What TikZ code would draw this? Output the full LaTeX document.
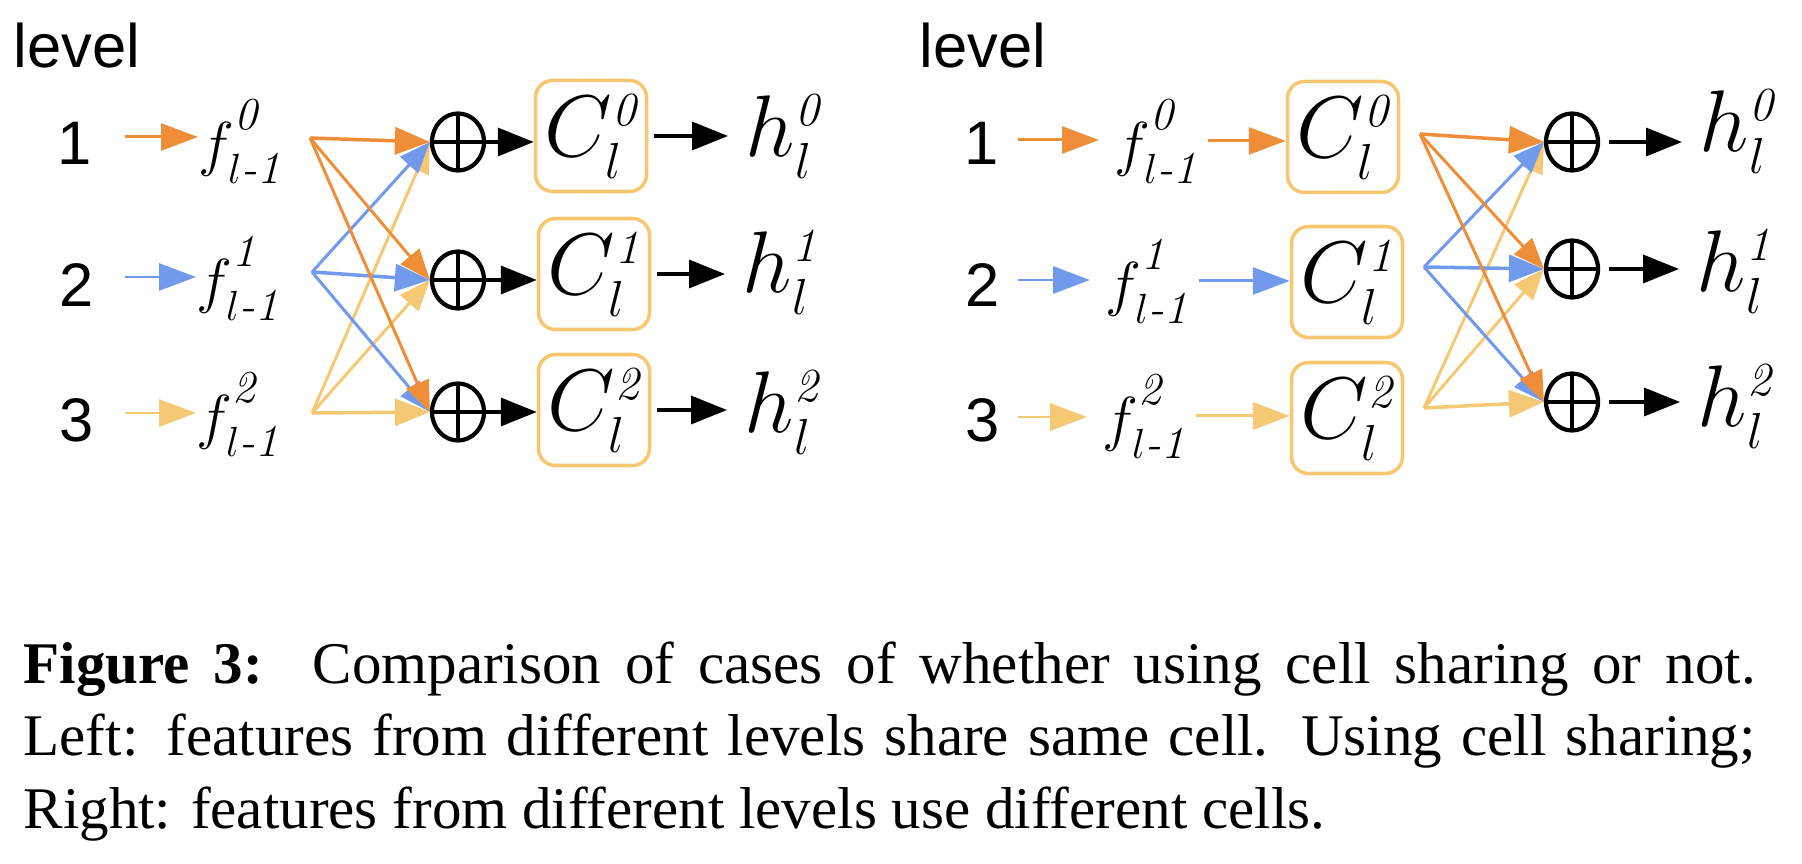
\documentclass[tikz,border=0pt]{standalone}
\usepackage{amsmath}
\usepackage{fontspec}
\newfontfamily\capfont{Liberation Serif}
\newfontfamily\labfont{Liberation Sans}
\usetikzlibrary{arrows.meta,shapes.geometric}

\definecolor{orangec}{RGB}{239,142,57}
\definecolor{bluec}{RGB}{114,154,236}
\definecolor{yellowc}{RGB}{245,200,115}
\definecolor{cellc}{RGB}{247,198,112}

\DeclareMathSizes{16.5}{16.5}{13}{9}
\DeclareMathSizes{23}{23}{13.5}{9}

\newcommand{\fin}[1]{$f^{\text{\raisebox{0.3em}{\itshape #1}}}_{l\textit{-1}}$}
\newcommand{\cel}[1]{$C^{\textit{#1}}_{l}$}
\newcommand{\hid}[1]{$h^{\textit{#1}}_{l}$}

\tikzset{
  lvl/.style={font=\labfont\fontsize{17.5}{21}\selectfont, inner sep=0pt},
  feat/.style={font=\fontsize{16.5}{20}\selectfont, inner sep=0pt, anchor=base west},
  outh/.style={font=\fontsize{23}{28}\selectfont, inner sep=0pt, anchor=base west},
  cellbox/.style={draw=cellc, line width=1pt, rounded corners=0.17cm, minimum size=1.11cm,
    inner sep=0pt, font=\fontsize{23}{28}\selectfont},
  plusnode/.style={ellipse, draw, line width=1.2pt, minimum width=0.52cm, minimum height=0.57cm,
    inner sep=0pt, path picture={\draw[line width=1.1pt]
      (path picture bounding box.north) -- (path picture bounding box.south)
      (path picture bounding box.west) -- (path picture bounding box.east);}},
  inarr/.style={line width=0.85pt, -{Triangle[length=3.7mm,width=2.7mm]}},
  fanline/.style={line width=0.85pt},
  fanhead/.style={-{Triangle[length=3.1mm,width=2.4mm]}},
  bighead/.style={line width=1pt, -{Triangle[length=3.5mm,width=2.7mm]}},
  blk/.style={line width=1pt, -{Triangle[length=3.6mm,width=2.8mm]}},
}

\begin{document}
\begin{tikzpicture}
  \useasboundingbox (0,0) rectangle (18.02,-8.64);

  % left: one cell shared by all levels
  \node[lvl,anchor=base west] (lva) at (0.13,-0.68) {level};
  \node[lvl,anchor=base] (la0) at (0.75,-1.65) {1};
  \node[lvl,anchor=base] (la1) at (0.77,-3.07) {2};
  \node[lvl,anchor=base] (la2) at (0.77,-4.42) {3};
  \node[feat] (fa0) at (1.98,-1.65) {\fin{0}};
  \node[feat] (fa1) at (1.96,-3.02) {\fin{1}};
  \node[feat] (fa2) at (1.96,-4.38) {\fin{2}};
  \node[plusnode] (pa0) at (4.58,-1.42) {};
  \node[plusnode] (pa1) at (4.58,-2.80) {};
  \node[plusnode] (pa2) at (4.58,-4.12) {};
  \node[cellbox] (ca0) at (5.91,-1.36) {\cel{0}};
  \node[cellbox] (ca1) at (5.94,-2.74) {\cel{1}};
  \node[cellbox] (ca2) at (5.94,-4.10) {\cel{2}};
  \node[outh] (ha0) at (7.45,-1.57) {\hid{0}};
  \node[outh] (ha1) at (7.42,-2.93) {\hid{1}};
  \node[outh] (ha2) at (7.44,-4.33) {\hid{2}};

  \coordinate (sa0) at (1.25,-1.37);
  \coordinate (sa1) at (1.25,-2.77);
  \coordinate (sa2) at (1.25,-4.13);
  \coordinate (oa0) at (3.10,-1.38);
  \coordinate (oa1) at (3.12,-2.72);
  \coordinate (oa2) at (3.12,-4.13);

  \draw[inarr,orangec] (sa0) -- (sa0 -| fa0.west);
  \draw[inarr,bluec] (sa1) -- (sa1 -| fa1.west);
  \draw[inarr,yellowc] (sa2) -- (sa2 -| fa2.west);

  \draw[fanline,yellowc] (oa2) edge[fanhead] (pa0.west) edge[fanhead] (pa1.west) edge[bighead] (pa2.west);
  \draw[fanline,bluec] (oa1) edge[fanhead] (pa0.west) edge[bighead] (pa1.west) edge[fanhead] (pa2.west);
  \draw[fanline,orangec] (oa0) edge[bighead] (pa0.west) edge[fanhead] (pa1.west) edge[fanhead] (pa2.west);

  \draw[blk] (pa0.east) -- (pa0.east -| ca0.west);
  \draw[blk] (pa1.east) -- (pa1.east -| ca1.west);
  \draw[blk] (pa2.east) -- (pa2.east -| ca2.west);
  \draw[blk,shorten <=0.06cm,shorten >=0.17cm] (ca0.east) -- (ca0.east -| ha0.west);
  \draw[blk,shorten <=0.06cm,shorten >=0.17cm] (ca1.east) -- (ca1.east -| ha1.west);
  \draw[blk,shorten <=0.06cm,shorten >=0.17cm] (ca2.east) -- (ca2.east -| ha2.west);

  % right: one cell per level
  \node[lvl,anchor=base west] (lvb) at (9.19,-0.68) {level};
  \node[lvl,anchor=base] (lb0) at (9.82,-1.65) {1};
  \node[lvl,anchor=base] (lb1) at (9.83,-3.07) {2};
  \node[lvl,anchor=base] (lb2) at (9.83,-4.42) {3};
  \node[feat] (fb0) at (11.14,-1.65) {\fin{0}};
  \node[feat] (fb1) at (11.05,-3.05) {\fin{1}};
  \node[feat] (fb2) at (11.02,-4.40) {\fin{2}};
  \node[cellbox] (cb0) at (13.43,-1.37) {\cel{0}};
  \node[cellbox] (cb1) at (13.47,-2.82) {\cel{1}};
  \node[cellbox] (cb2) at (13.47,-4.18) {\cel{2}};
  \node[plusnode] (pb0) at (15.72,-1.42) {};
  \node[plusnode] (pb1) at (15.72,-2.69) {};
  \node[plusnode] (pb2) at (15.72,-4.02) {};
  \node[outh] (hb0) at (16.99,-1.52) {\hid{0}};
  \node[outh] (hb1) at (16.96,-2.92) {\hid{1}};
  \node[outh] (hb2) at (16.97,-4.27) {\hid{2}};

  \coordinate (sb0) at (10.18,-1.40);
  \coordinate (sb1) at (10.18,-2.80);
  \coordinate (sb2) at (10.18,-4.17);
  \coordinate (ob0) at (14.20,-1.34);
  \coordinate (ob1) at (14.24,-2.67);
  \coordinate (ob2) at (14.24,-4.08);

  \draw[inarr,orangec,shorten >=0.15cm] (sb0) -- (sb0 -| fb0.west);
  \draw[inarr,bluec,shorten >=0.15cm] (sb1) -- (sb1 -| fb1.west);
  \draw[inarr,yellowc,shorten >=0.15cm] (sb2) -- (sb2 -| fb2.west);
  \draw[inarr,orangec,shorten <=0.09cm] (fb0.east) -- (fb0.east -| cb0.west);
  \draw[inarr,bluec,shorten <=0.09cm] (fb1.east) -- (fb1.east -| cb1.west);
  \draw[inarr,yellowc,shorten <=0.09cm] (fb2.east) -- (fb2.east -| cb2.west);

  \draw[fanline,yellowc] (ob2) edge[fanhead] (pb0.west) edge[fanhead] (pb1.west) edge[bighead] (pb2.west);
  \draw[fanline,bluec] (ob1) edge[fanhead] (pb0.west) edge[bighead] (pb1.west) edge[fanhead] (pb2.west);
  \draw[fanline,orangec] (ob0) edge[bighead] (pb0.west) edge[fanhead] (pb1.west) edge[fanhead] (pb2.west);

  \draw[blk,shorten <=0.09cm,shorten >=0.17cm] (pb0.east) -- (pb0.east -| hb0.west);
  \draw[blk,shorten <=0.09cm,shorten >=0.17cm] (pb1.east) -- (pb1.east -| hb1.west);
  \draw[blk,shorten <=0.09cm,shorten >=0.17cm] (pb2.east) -- (pb2.east -| hb2.west);

  % caption
  \node[anchor=north west, text width=17.32cm, align=justify, inner sep=0pt,
    font=\capfont\fontsize{16.8}{20.6}\selectfont] (cap) at (0.23,-6.41)
    {\textbf{Figure 3:}\hspace{0.2em} Comparison of cases of whether using cell sharing or not.\linebreak
     Left: features from different levels share same cell. Using cell sharing;\linebreak
     Right: features from different levels use different cells.};
\end{tikzpicture}
\end{document}
